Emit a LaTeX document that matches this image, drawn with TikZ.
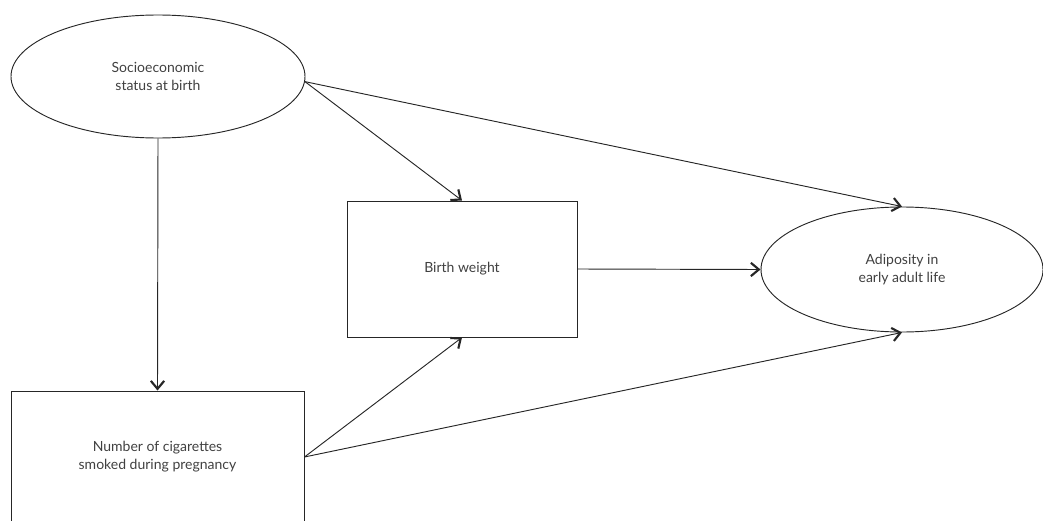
\documentclass[tikz,border=0pt]{standalone}
\usepackage{fontspec}
\setmainfont{Lato}
\usetikzlibrary{shapes.geometric,arrows.meta}
\begin{document}
\begin{tikzpicture}[x=0.75pt,y=-0.75pt,
  every node/.style={font=\fontsize{10.5}{13.5}\selectfont, text=black!75, align=center},
  oval/.style={draw=black!85, ellipse, line width=0.7pt, inner sep=0pt},
  rectbox/.style={draw=black!85, rectangle, line width=0.7pt, inner sep=0pt},
  link/.style={draw=black!85, line width=0.7pt,
    -{Straight Barb[length=6pt,width=10pt,line width=1.6pt]}}]
  \useasboundingbox (0,0) rectangle (1043,521);
  \clip (0,0) rectangle (1043,521);

  % variables
  \node[oval, minimum width=220.5pt, minimum height=92.25pt] (ses) at (158,76.5)
    {Socioeconomic\\status at birth};
  \node[rectbox, minimum width=219.75pt, minimum height=99pt] (smk) at (157.5,457)
    {Number of cigarettes\\smoked during pregnancy};
  \node[rectbox, minimum width=172.5pt, minimum height=102pt] (bw) at (462,269)
    {Birth weight};
  \node[oval, minimum width=211.5pt, minimum height=93.75pt] (ado) at (902,269.5)
    {Adiposity in\\early adult life};

  % paths
  \draw[link] (ses.south) -- (smk.north);
  \draw[link] (ses.-2) -- (bw.north);
  \draw[link] (ses.-2) -- (ado.north);
  \draw[link] (bw.east) -- (ado.west);
  \draw[link] (smk.east) -- (bw.south);
  \draw[link] (smk.east) -- (ado.south);
\end{tikzpicture}
\end{document}
